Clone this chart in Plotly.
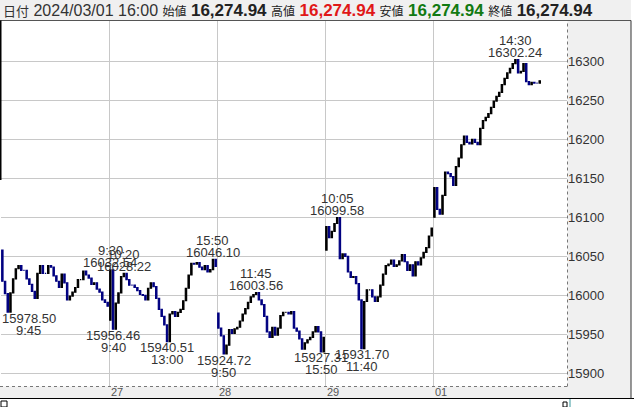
import plotly.graph_objects as go

# ---------------- data ----------------
days = ["02/26", "02/27", "02/28", "02/29", "03/01"]
day_ticks = ["26", "27", "28", "29", "01"]
# 10-minute bars, 9:25 ... 15:55 each day
bar_times = ["%d:%02d" % ((9 * 60 + 25 + 10 * k) // 60, (9 * 60 + 25 + 10 * k) % 60) for k in range(40)]

day_open = [16058, 15968, 15977, 16058, 16100]

close_0226 = [16018, 16002, 15978.50, 16003, 16021, 16034, 16038, 16032, 16032, 16021,
              16014, 16005, 15996, 16028, 16038, 16028, 16028, 16038, 16036, 16025,
              16018, 16010, 16027, 16016, 15994, 15999, 16004, 16010, 16020, 16020,
              16031, 16026, 16022, 16014, 16016, 16008, 16004, 15994, 15991, 15986]
close_0227 = [16032.54, 15956.46, 15990, 16003, 16024, 16028.22, 16020, 16013, 16013, 16010,
              16006, 16001, 16000, 15994, 16009, 16016, 16011, 15996, 15982, 15973,
              15962, 15940.51, 15976, 15979, 15973, 15978, 15982, 15993, 16009, 16026,
              16041, 16040, 16042, 16036, 16033, 16038, 16030, 16033, 16046.10, 16037]
close_0228 = [15958, 15948, 15924.72, 15936, 15956, 15951, 15957, 15959, 15967, 15976,
              15983, 15991, 15998, 16001, 16003.56, 15994, 15988, 15973, 15953, 15946,
              15959, 15949, 15958, 15974, 15978, 15978, 15976, 15979, 15958, 15954,
              15944, 15931, 15939, 15943, 15946, 15953, 15960, 15953, 15927.31, 15946]
close_0229 = [16088, 16074, 16082, 16092, 16099.58, 16047, 16053, 16050, 16030, 16023,
              16024, 16015, 15994, 15931.70, 15992, 16007, 16007, 15998, 15992, 15998,
              16013, 16027, 16038, 16040, 16045, 16037, 16039, 16044, 16052, 16043,
              16032, 16039, 16025, 16043, 16039, 16048, 16055, 16061, 16076, 16086]
close_0301 = [16138, 16110, 16104, 16128, 16158, 16156, 16152, 16141, 16165, 16176,
              16193, 16204, 16196, 16194, 16200, 16196, 16193, 16214, 16224, 16228,
              16233, 16241, 16249, 16255, 16260, 16270, 16278, 16285, 16291, 16297,
              16302.24, 16285, 16287, 16297, 16274, 16270, 16273, 16272, 16272, 16274.94]
closes_by_day = [close_0226, close_0227, close_0228, close_0229, close_0301]

swing_days = ["02/26", "02/27", "02/27", "02/27", "02/27", "02/27",
              "02/28", "02/28", "02/28", "02/29", "02/29", "03/01"]
swing_times = ["9:45", "9:30", "10:20", "9:40", "13:00", "15:50",
               "9:50", "11:45", "15:50", "10:05", "11:40", "14:30"]
swing_kind = ["low", "high", "high", "low", "low", "high",
              "low", "high", "low", "high", "low", "high"]

y_ticks = [15900, 15950, 16000, 16050, 16100, 16150, 16200, 16250, 16300]

# ---------------- build OHLC ----------------
xs, o, h, l, c = [], [], [], [], []
for d, closes in enumerate(closes_by_day):
    for k, v in enumerate(closes):
        u = d * 40 + k
        op = day_open[d] if k == 0 else closes[k - 1]
        xs.append(u)
        o.append(op)
        c.append(v)
        h.append(max(op, v))
        l.append(min(op, v))

W, H = 634, 407
PL, PR, PT, PB = 1, 567, 20, 386
XR = [-0.5, 209.1]
YR = [15883.7, 16352.9]


def px_x(px):
    return (px - PL) / (PR - PL)


def px_y(py):
    return (PB - py) / (PB - PT)


def u_to_px(u):
    return PL + (u - XR[0]) * (PR - PL) / (XR[1] - XR[0])


fig = go.Figure()
fig.add_trace(go.Candlestick(
    x=xs, open=o, high=h, low=l, close=c,
    increasing=dict(line=dict(color="#000000", width=1.2), fillcolor="#000000"),
    decreasing=dict(line=dict(color="#000080", width=1.2), fillcolor="#000080"),
    whiskerwidth=0, showlegend=False, hoverinfo="skip",
))

grid = "#c8c8c8"
fig.update_layout(
    width=W, height=H,
    margin=dict(l=PL, r=W - PR, t=PT, b=H - PB),
    paper_bgcolor="white", plot_bgcolor="white",
    showlegend=False,
    xaxis=dict(range=XR, rangeslider=dict(visible=False), showticklabels=False,
               tickvals=[d * 40 - 0.5 for d in range(1, len(days))],
               showgrid=True, gridcolor=grid, gridwidth=1, zeroline=False,
               showline=False, ticks=""),
    yaxis=dict(range=YR, side="right", tickvals=y_ticks,
               ticktext=[str(t) for t in y_ticks],
               showgrid=True, gridcolor=grid, gridwidth=1, zeroline=False,
               showline=False, ticks="",
               tickfont=dict(family="Liberation Sans", size=13, color="#333333")),
    font=dict(family="Liberation Sans"),
)

shapes = []
# header band
shapes.append(dict(type="rect", xref="paper", yref="paper", x0=px_x(0), x1=px_x(631),
                   y0=px_y(20.5), y1=px_y(0), fillcolor="#f0f0f0", line=dict(width=0), layer="below"))
shapes.append(dict(type="line", xref="paper", yref="paper", x0=px_x(0), x1=px_x(631),
                   y0=px_y(20.5), y1=px_y(20.5), line=dict(color="#555555", width=1)))
# right axis panel
shapes.append(dict(type="rect", xref="paper", yref="paper", x0=px_x(567.5), x1=px_x(631),
                   y0=px_y(398), y1=px_y(20.5), fillcolor="#f0f0f0", line=dict(width=0), layer="below"))
# bottom axis strip
shapes.append(dict(type="rect", xref="paper", yref="paper", x0=px_x(0), x1=px_x(631),
                   y0=px_y(398), y1=px_y(386.5), fillcolor="#f0f0f0", line=dict(width=0), layer="below"))
shapes.append(dict(type="line", xref="paper", yref="paper", x0=px_x(0), x1=px_x(634),
                   y0=px_y(398.5), y1=px_y(398.5), line=dict(color="#000000", width=1)))
shapes.append(dict(type="line", xref="paper", yref="paper", x0=px_x(631), x1=px_x(631),
                   y0=px_y(398.5), y1=px_y(20.5), line=dict(color="#333333", width=1)))
# dotted plot borders
shapes.append(dict(type="line", xref="paper", yref="paper", x0=px_x(567.5), x1=px_x(567.5),
                   y0=px_y(386.5), y1=px_y(20.5), line=dict(color="#777777", width=1, dash="dot")))
shapes.append(dict(type="line", xref="paper", yref="paper", x0=px_x(0), x1=px_x(567.5),
                   y0=px_y(386.5), y1=px_y(386.5), line=dict(color="#777777", width=1, dash="dot")))
# left border
shapes.append(dict(type="line", xref="paper", yref="paper", x0=px_x(0.5), x1=px_x(0.5),
                   y0=px_y(180), y1=px_y(20.5), line=dict(color="#000000", width=2)))
# lower panel remnants
shapes.append(dict(type="rect", xref="paper", yref="paper", x0=px_x(1), x1=px_x(7),
                   y0=px_y(407), y1=px_y(401), line=dict(color="#000000", width=1)))
shapes.append(dict(type="rect", xref="paper", yref="paper", x0=px_x(563), x1=px_x(567),
                   y0=px_y(407), y1=px_y(402), line=dict(color="#000000", width=1)))
shapes.append(dict(type="line", xref="paper", yref="paper", x0=px_x(570), x1=px_x(570),
                   y0=px_y(407), y1=px_y(399), line=dict(color="#3a9aa0", width=1)))
fig.update_layout(shapes=shapes)

ann = []
lab_font = dict(family="Liberation Sans", size=13, color="#333333")


def to_min(t):
    hh, mm = t.split(":")
    return int(hh) * 60 + int(mm)


for dname, t, kind in zip(swing_days, swing_times, swing_kind):
    d = days.index(dname)
    k = (to_min(t) - (9 * 60 + 25)) // 10
    u = d * 40 + k
    v = closes_by_day[d][k]
    pxc = u_to_px(u)
    half = 27
    xsft = max(0, (2 + half) - pxc)
    if kind == "high":
        s_val, s_time = 7, 19
    else:
        s_val, s_time = -6, -18
    ann.append(dict(x=u, y=v, xref="x", yref="y", text="%.2f" % v, showarrow=False,
                    xanchor="center", yanchor="middle", xshift=xsft, yshift=s_val, font=lab_font))
    ann.append(dict(x=u, y=v, xref="x", yref="y", text=t, showarrow=False,
                    xanchor="center", yanchor="middle", xshift=xsft, yshift=s_time, font=lab_font))

# bottom day labels
for d in range(1, len(days)):
    ann.append(dict(x=d * 40 - 0.5, y=px_y(392), xref="x", yref="paper", text=day_ticks[d],
                    showarrow=False, xanchor="center", yanchor="middle", xshift=7.5,
                    font=dict(family="Liberation Sans", size=11, color="#555555")))

# header (16:00 closing bar: open = high = low = close)
last = format(c[-1], ",.2f")
cjk = "font-family:'Noto Sans CJK JP';font-size:12px;color:#222222"
val = "font-weight:bold;font-size:17px;color:%s"
header_text = (
    "<span style=\"font-family:'Noto Sans CJK JP';font-size:13px\">日付</span> "
    "2024/03/01 16:00 "
    "<span style=\"%s\">始値</span> <span style=\"%s\">%s</span> "
    "<span style=\"%s\">高値</span> <span style=\"%s\">%s</span> "
    "<span style=\"%s\">安値</span> <span style=\"%s\">%s</span> "
    "<span style=\"%s\">終値</span> <span style=\"%s\">%s</span>"
) % (cjk, val % "#222222", last,
     cjk, val % "#e01818", last,
     cjk, val % "#127a12", last,
     cjk, val % "#222222", last)
ann.append(dict(x=px_x(2), y=px_y(10.5), xref="paper", yref="paper", text=header_text,
                showarrow=False, xanchor="left", yanchor="middle", borderpad=0,
                font=dict(family="Liberation Sans", size=16, color="#333333")))

fig.update_layout(annotations=ann)
fig.write_html("out.html", config={"displayModeBar": False},
               post_script="document.body.style.margin='0';document.body.style.overflow='hidden';")
